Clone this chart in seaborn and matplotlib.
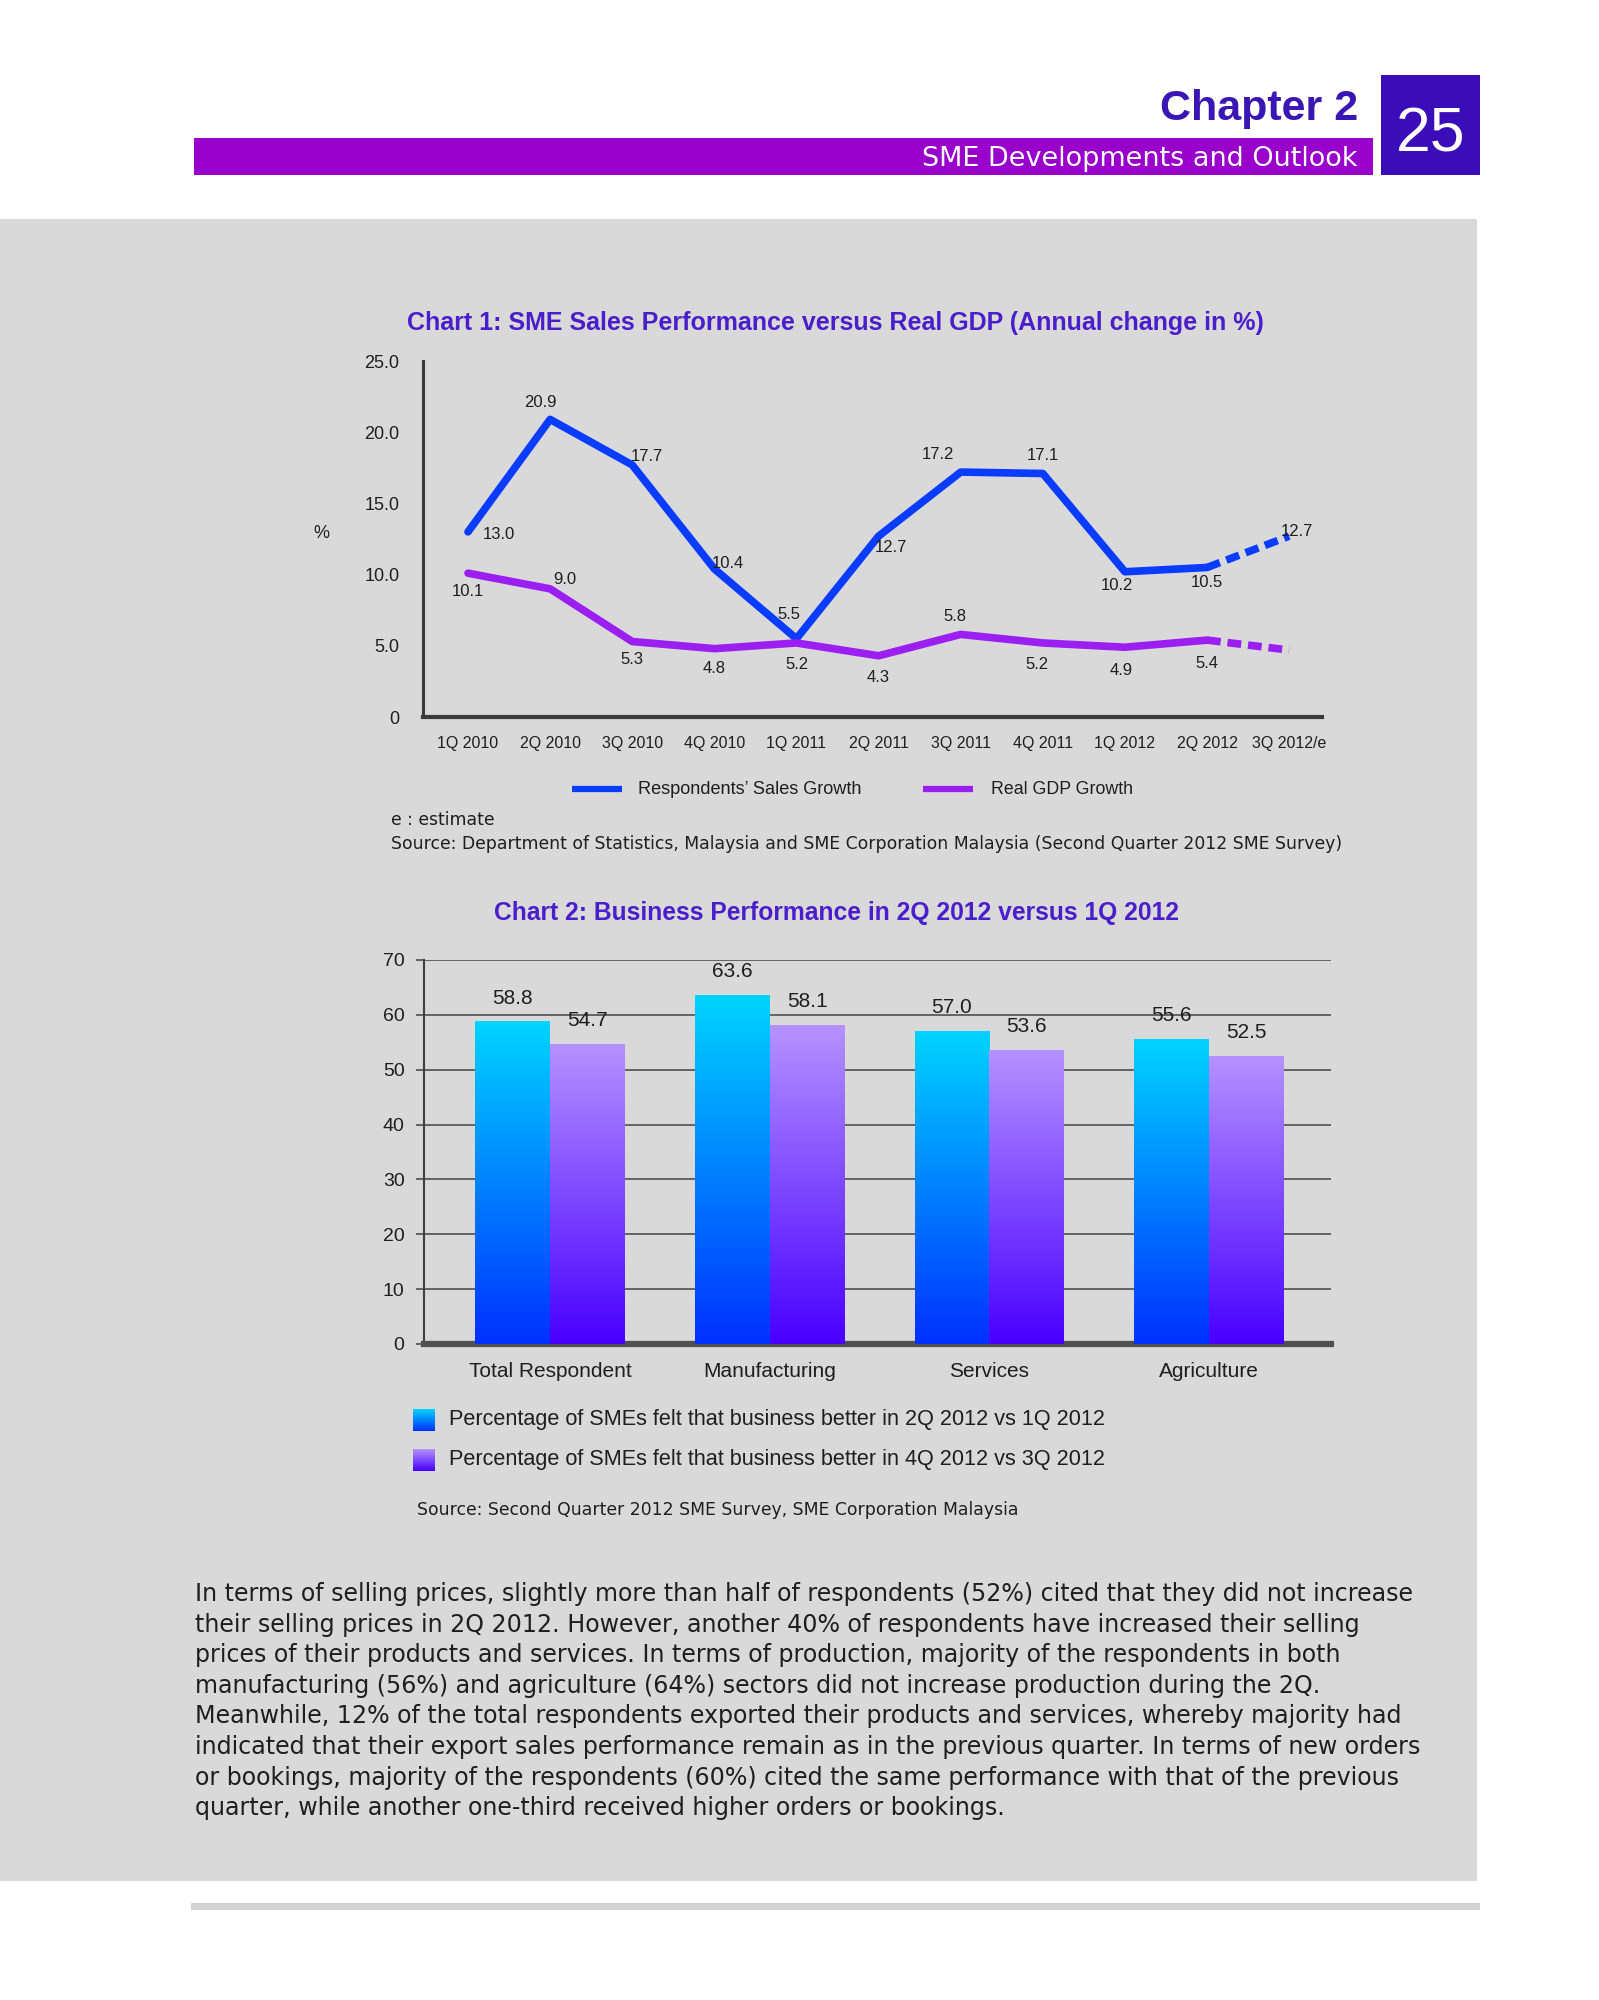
import numpy as np
import pandas as pd
import matplotlib
matplotlib.use('Agg')
import matplotlib.pyplot as plt
import seaborn as sns
from matplotlib.patches import Rectangle
from matplotlib.lines import Line2D
from matplotlib.colors import to_rgb

# ---------------- data ----------------
quarters = ['1Q 2010', '2Q 2010', '3Q 2010', '4Q 2010', '1Q 2011', '2Q 2011',
            '3Q 2011', '4Q 2011', '1Q 2012', '2Q 2012', '3Q 2012/e']
sales_growth = [13.0, 20.9, 17.7, 10.4, 5.5, 12.7, 17.2, 17.1, 10.2, 10.5, 12.7]
gdp_growth = [10.1, 9.0, 5.3, 4.8, 5.2, 4.3, 5.8, 5.2, 4.9, 5.4, 4.7]
gdp_labelled = 10  # the estimate point for GDP carries no label

# label offsets (pixels) relative to each point
sales_label_offsets = [(31, -3), (-10, 17), (15, 8), (14, 5), (-8, 24), (12, -11),
                       (-23, 18), (0, 18), (-8, -14), (0, -15), (8, 5)]
gdp_label_offsets = [(0, -18), (15, 9), (0, -18), (0, -20), (0, -22), (0, -22),
                     (-6, 18), (-6, -22), (-4, -23), (0, -23)]

sectors = ['Total Respondent', 'Manufacturing', 'Services', 'Agriculture']
better_2q_vs_1q = [58.8, 63.6, 57.0, 55.6]
better_4q_vs_3q = [54.7, 58.1, 53.6, 52.5]
series_names = ['Percentage of SMEs felt that business better in 2Q 2012 vs 1Q 2012',
                'Percentage of SMEs felt that business better in 4Q 2012 vs 3Q 2012']

body_lines = [
    "In terms of selling prices, slightly more than half of respondents (52%) cited that they did not increase",
    "their selling prices in 2Q 2012. However, another 40% of respondents have increased their selling",
    "prices of their products and services. In terms of production, majority of the respondents in both",
    "manufacturing (56%) and agriculture (64%) sectors did not increase production during the 2Q.",
    "Meanwhile, 12% of the total respondents exported their products and services, whereby majority had",
    "indicated that their export sales performance remain as in the previous quarter. In terms of new orders",
    "or bookings, majority of the respondents (60%) cited the same performance with that of the previous",
    "quarter, while another one-third received higher orders or bookings.",
]

# ---------------- style ----------------
BLUE = '#0A3CFF'
PURPLE = '#9A1FF0'
TITLE_C = '#4B1ECB'
GRAY_BG = '#D9D9D9'
TXT = '#1E1E1E'
grad_top = ['#00D4FF', '#B592FF']
grad_bottom = ['#0030FF', '#4800FF']

W, H = 1599, 2000
sns.set_theme(style='white')
plt.rcParams['font.family'] = ['Liberation Sans', 'DejaVu Sans']

fig = plt.figure(figsize=(W / 100, H / 100), dpi=100, facecolor='white')
renderer = fig.canvas.get_renderer()


def fx(x):
    return x / W


def fy(y):
    return 1 - y / H


def rect(x0, y0, x1, y1, color, z=-5):
    fig.add_artist(Rectangle((fx(x0), fy(y1)), (x1 - x0) / W, (y1 - y0) / H,
                             transform=fig.transFigure, facecolor=color,
                             edgecolor='none', zorder=z))


def ftext(x, y, s, width=None, **kw):
    t = fig.text(fx(x), fy(y), s, **kw)
    if width is not None:
        bb = t.get_window_extent(renderer)
        t.set_fontsize(t.get_fontsize() * width / bb.width)
    return t


def gradient(bottom, top, n=256):
    b = np.array(to_rgb(bottom))
    t = np.array(to_rgb(top))
    return np.linspace(b, t, n)[:, None, :]


# ---------------- page furniture ----------------
rect(0, 219, 1477, 1881, GRAY_BG, z=-10)
rect(194, 138, 1373, 175, '#9900CC')
rect(1381, 75, 1480, 175, '#3A0DB8')
rect(191, 1903, 1480, 1910, '#D2D2D2')

ftext(1358, 120, 'Chapter 2', ha='right', va='baseline', fontsize=31,
      fontweight='bold', color='#3A16B5')
ftext(1357, 166, 'SME Developments and Outlook', width=436, ha='right',
      va='baseline', fontsize=19, color='white', family='DejaVu Sans')
ftext(1431, 152, '25', ha='center', va='baseline', fontsize=45, color='white',
      family=['Liberation Sans Narrow', 'Liberation Sans'])

# ---------------- chart 1 ----------------
ftext(835, 323, 'Chart 1: SME Sales Performance versus Real GDP (Annual change in %)',
      width=854, ha='center', va='center', fontsize=16, fontweight='bold', color=TITLE_C)

ax1 = fig.add_axes([fx(423), fy(717), (1322 - 423) / W, (717 - 361) / H])
ax1.set_facecolor('none')
x_idx = np.arange(len(quarters))
sns.lineplot(x=x_idx[:10], y=sales_growth[:10], color=BLUE, lw=5.5, ax=ax1)
sns.lineplot(x=x_idx[9:], y=sales_growth[9:], color=BLUE, lw=5.5, ax=ax1,
             linestyle=(0, (1.8, 0.9)))
sns.lineplot(x=x_idx[:10], y=gdp_growth[:10], color=PURPLE, lw=5.5, ax=ax1)
sns.lineplot(x=x_idx[9:], y=gdp_growth[9:], color=PURPLE, lw=5.5, ax=ax1,
             linestyle=(0, (1.8, 0.9)))

for i, (v, off) in enumerate(zip(sales_growth, sales_label_offsets)):
    ax1.annotate(f'{v:.1f}', (x_idx[i], v), xytext=off, textcoords='offset pixels',
                 ha='center', va='center', fontsize=12, color=TXT)
for i, (v, off) in enumerate(zip(gdp_growth[:gdp_labelled], gdp_label_offsets)):
    ax1.annotate(f'{v:.1f}', (x_idx[i], v), xytext=off, textcoords='offset pixels',
                 ha='center', va='center', fontsize=12, color=TXT)

ax1.set_xlim(-0.548, 10.40)
ax1.set_ylim(0, 25)
ax1.set_xticks(x_idx, quarters)
yt = [0, 5, 10, 15, 20, 25]
ax1.set_yticks(yt, ['0'] + [f'{v:.1f}' for v in yt[1:]])
ax1.tick_params(axis='x', length=0, pad=14, labelsize=11.5, labelcolor=TXT)
ax1.tick_params(axis='y', length=0, pad=17, labelsize=13, labelcolor=TXT)
ax1.set_xlabel('')
ax1.set_ylabel('')
for s in ['top', 'right']:
    ax1.spines[s].set_visible(False)
ax1.spines['left'].set_color('#3A3A3A')
ax1.spines['left'].set_linewidth(2.2)
ax1.spines['bottom'].set_color('#3A3A3A')
ax1.spines['bottom'].set_linewidth(3)
top_tick = ax1.yaxis.get_major_ticks()[-1]
top_tick.tick1line.set_markersize(5)
top_tick.tick1line.set_markeredgewidth(1.2)
top_tick.tick1line.set_color('#3A3A3A')
ftext(321, 534, '%', ha='center', va='center', fontsize=13, color=TXT)

# legend 1
fig.add_artist(Line2D([fx(572), fx(622)], [fy(789), fy(789)], transform=fig.transFigure,
                      color=BLUE, lw=4.5, solid_capstyle='butt'))
ftext(638, 789, 'Respondents\u2019 Sales Growth', width=224, ha='left', va='center',
      fontsize=12.5, color=TXT)
fig.add_artist(Line2D([fx(923), fx(973)], [fy(789), fy(789)], transform=fig.transFigure,
                      color=PURPLE, lw=4.5, solid_capstyle='butt'))
ftext(991, 789, 'Real GDP Growth', width=142, ha='left', va='center',
      fontsize=12.5, color=TXT)

src1 = ftext(391, 844, 'Source: Department of Statistics, Malaysia and SME Corporation Malaysia '
             '(Second Quarter 2012 SME Survey)', width=945, ha='left', va='center',
             fontsize=12, color=TXT, family='DejaVu Sans')
ftext(391, 820, 'e : estimate', ha='left', va='center', fontsize=src1.get_fontsize(),
      color=TXT, family='DejaVu Sans')

# ---------------- chart 2 ----------------
ftext(836, 913, 'Chart 2: Business Performance in 2Q 2012 versus 1Q 2012',
      width=683, ha='center', va='center', fontsize=16, fontweight='bold', color=TITLE_C)

ax2 = fig.add_axes([fx(424), fy(1344), (1331 - 424) / W, (1344 - 960) / H])
ax2.set_facecolor('none')
df = pd.DataFrame({
    'sector': sectors * 2,
    'value': better_2q_vs_1q + better_4q_vs_3q,
    'series': [series_names[0]] * len(sectors) + [series_names[1]] * len(sectors),
})
sns.barplot(data=df, x='sector', y='value', hue='series', order=sectors,
            hue_order=series_names, palette=[grad_bottom[0], grad_bottom[1]],
            width=0.68, saturation=1, legend=False, errorbar=None, ax=ax2, zorder=3)

for ci, cont in enumerate(ax2.containers):
    img = gradient(grad_bottom[ci], grad_top[ci])
    for bar in cont:
        x0, w, h = bar.get_x(), bar.get_width(), bar.get_height()
        bar.set_facecolor('none')
        bar.set_edgecolor('none')
        im = ax2.imshow(img, extent=[x0, x0 + w, 0, h], aspect='auto', origin='lower',
                        zorder=3, interpolation='bilinear')
        im.set_clip_path(bar)
    ax2.bar_label(cont, fmt='%.1f', padding=10, fontsize=15, color=TXT)

ax2.set_xlim(-0.573, 3.555)
ax2.set_ylim(0, 70)
ax2.set_aspect('auto')
ax2.set_yticks(range(0, 71, 10))
ax2.yaxis.grid(True, color='#505050', lw=1.2)
ax2.xaxis.grid(False)
ax2.set_axisbelow(True)
ax2.tick_params(axis='y', left=True, length=6, width=1.2, color='#505050', pad=8,
                labelsize=14, labelcolor=TXT)
ax2.tick_params(axis='x', length=0, pad=13, labelsize=15, labelcolor=TXT)
ax2.set_xlabel('')
ax2.set_ylabel('')
for s in ['top', 'right']:
    ax2.spines[s].set_visible(False)
ax2.spines['left'].set_color('#404040')
ax2.spines['left'].set_linewidth(1.5)
ax2.spines['bottom'].set_color('#505050')
ax2.spines['bottom'].set_linewidth(4.5)

# legend 2
for k, yc in enumerate([1420, 1460]):
    lax = fig.add_axes([fx(413), fy(yc + 11), 22 / W, 22 / H])
    lax.imshow(gradient(grad_bottom[k], grad_top[k]), aspect='auto', origin='lower',
               extent=[0, 1, 0, 1])
    lax.axis('off')
    ftext(449, yc, series_names[k], width=660, ha='left', va='center', fontsize=15,
          color=TXT)

ftext(417, 1510, 'Source: Second Quarter 2012 SME Survey, SME Corporation Malaysia',
      width=598, ha='left', va='center', fontsize=12, color=TXT, family='DejaVu Sans')

# ---------------- body text ----------------
probe = ftext(195, 1747, body_lines[5], width=1233, ha='left', va='center', fontsize=15,
              color=TXT, family='DejaVu Sans')
body_fs = probe.get_fontsize()
probe.remove()
for k, line in enumerate(body_lines):
    ftext(195, 1594 + 30.6 * k, line, ha='left', va='center', fontsize=body_fs,
          color=TXT, family='DejaVu Sans')

fig.savefig('out.png', dpi=100, facecolor='white')
